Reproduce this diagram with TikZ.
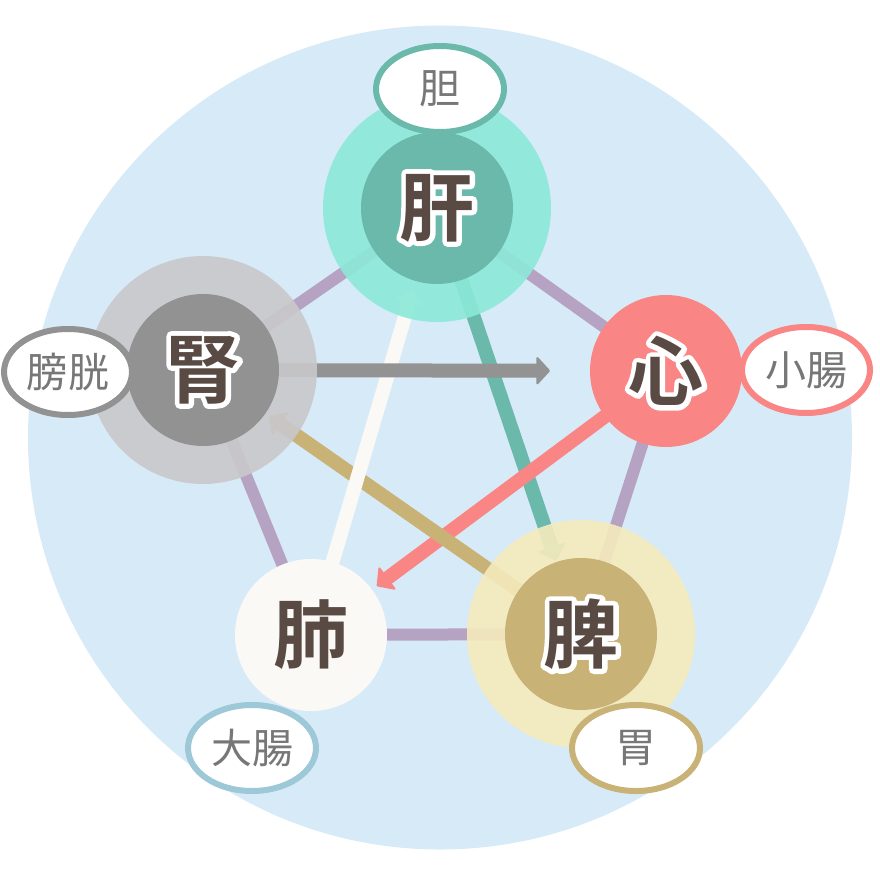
\documentclass[tikz,border=0pt]{standalone}
\usepackage{fontspec}
\usetikzlibrary{shapes.geometric,arrows.meta}
\newfontfamily\cjk[BoldFont={Noto Sans CJK JP Bold}]{Noto Sans CJK JP}
\definecolor{bgblue}{HTML}{D7EAF7}
\definecolor{kanhalo}{HTML}{8BE9D8}
\definecolor{kancore}{HTML}{6AB9AB}
\definecolor{jinhalo}{HTML}{C9C8CB}
\definecolor{jincore}{HTML}{929292}
\definecolor{shincore}{HTML}{F98684}
\definecolor{haicore}{HTML}{FBF9F6}
\definecolor{hihalo}{HTML}{F5EABC}
\definecolor{hicore}{HTML}{C8B276}
\definecolor{pentline}{HTML}{B6A3C3}
\definecolor{grayarrow}{HTML}{939393}
\definecolor{daichou}{HTML}{9DC8D8}
\definecolor{maintext}{HTML}{5A4A44}
\definecolor{subtext}{HTML}{777777}
\pgfdeclarelayer{bg}
\pgfdeclarelayer{lines}
\pgfsetlayers{bg,lines,main}
\newcommand\organtext[1]{\makebox[0pt][l]{\special{pdf:literal direct 1 Tr 10 w 1 j 1 J 1 1 1 RG}#1\special{pdf:literal direct 0 Tr 0.4 w 0 G}}#1}
\tikzset{
  halo/.style={circle, minimum size=228pt, inner sep=0pt, fill opacity=0.9},
  core/.style={circle, minimum size=152pt, inner sep=0pt, text=maintext,
    font=\cjk\bfseries\fontsize{75}{75}\selectfont},
  organ/.style={ellipse, minimum width=128pt, minimum height=86pt, inner sep=0pt,
    line width=6pt, fill=white, text=subtext, font=\cjk\fontsize{41}{41}\selectfont},
  pent/.style={line width=12pt, draw=pentline},
  arr/.style={line width=14pt, -{Triangle[length=14pt, width=30pt, line width=2pt, round]}}
}
\begin{document}
\begin{tikzpicture}[x=1pt, y=-1pt]
\useasboundingbox (0,0) rectangle (880,880);
\begin{pgfonlayer}{bg}
  \fill[bgblue] (440,437.5) circle (412);
\end{pgfonlayer}
% halos
\node[halo, fill=kanhalo] (kanH) at (437,208) {};
\node[halo, fill=jinhalo] (jinH) at (203,370) {};
\node[halo, fill=hihalo] (hiH) at (581,634) {};
% cores
\node[core, fill=kancore] (kan) at (437,208) {\organtext{肝}};
\node[core, fill=jincore] (jin) at (203,370) {\organtext{腎}};
\node[core, fill=hicore] (hi) at (581,634) {\organtext{脾}};
\node[core, fill=shincore] (shin) at (666,371) {\organtext{心}};
\node[core, fill=haicore] (hai) at (311,635) {肺};
% paired organs
\node[organ, draw=kancore] (tan) at (440,89) {胆};
\node[organ, draw=jincore] (boukou) at (68,372) {膀胱};
\node[organ, draw=shincore] (shouchou) at (806,370) {小腸};
\node[organ, draw=daichou] (daichou) at (252,748) {大腸};
\node[organ, draw=hicore] (i) at (636,748) {胃};
% connectors
\begin{pgfonlayer}{lines}
  \draw[pent] (kan.center) -- (shin.center) -- (hi.center) -- (hai.center) -- (jin.center) -- cycle;
  \draw[arr, draw=kancore, fill=kancore, shorten >=78pt] (kan.center) -- (hi.center);
  \draw[arr, draw=shincore, fill=shincore, shorten >=82pt] (shin.center) -- (hai.center);
  \draw[arr, draw=hicore, fill=hicore, shorten >=81pt] (hi.center) -- (jin.center);
  \draw[arr, draw=haicore, fill=haicore, shorten >=86pt] (hai.center) -- (kan.center);
  \draw[arr, draw=grayarrow, fill=grayarrow, shorten >=116pt] (jin.center) -- (shin.center);
\end{pgfonlayer}
\end{tikzpicture}
\end{document}
